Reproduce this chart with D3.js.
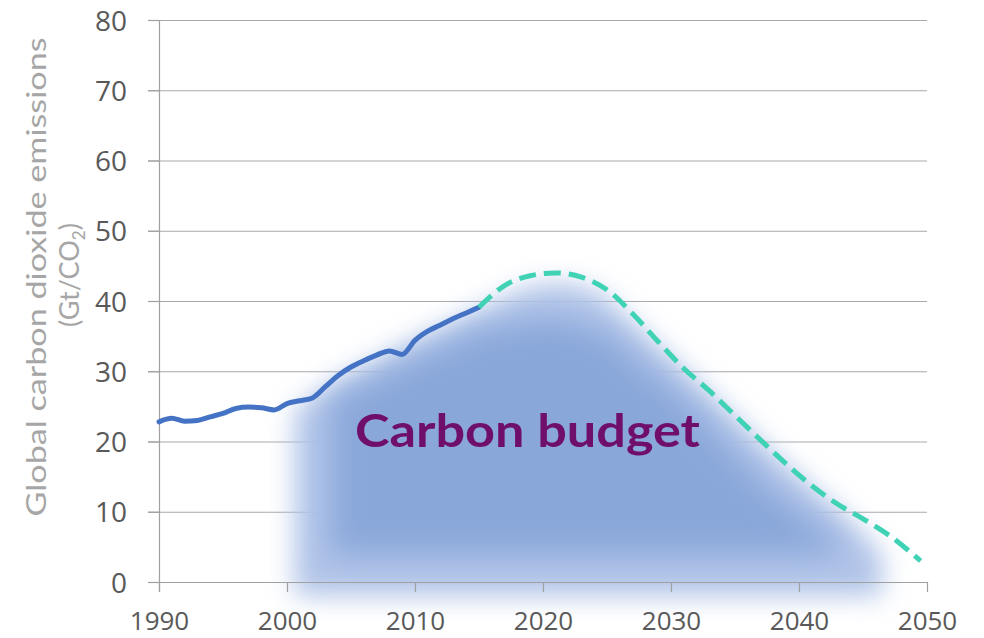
<!DOCTYPE html>
<meta charset="utf-8">
<style>
  body { margin: 0; background: #fff; }
  #chart { display: block; }
</style>
<svg id="chart" width="984" height="638"></svg>
<script src="https://cdn.jsdelivr.net/npm/d3@7"></script>
<script>

// measured emissions, Gt CO2
var pastYears  = [1990,1991,1992,1993,1994,1995,1996,1997,1998,1999,2000,2001,2002,
                  2003,2004,2005,2006,2007,2008,2009,2010,2011,2012,2013,2014,2015];
var pastValues = [22.8,23.3,22.9,23.0,23.5,24.0,24.7,24.9,24.8,24.5,25.4,25.8,26.2,
                  27.8,29.4,30.6,31.5,32.3,32.9,32.4,34.4,35.7,36.6,37.5,38.3,39.1];

// pathway to zero (dashed)
var pathYears  = [2015,2017,2019,2021,2023,2025,2027,2029,2031,2033,2035,2037,2039,2041,2043,2045,2047,2049.5];
var pathValues = [39.1,42.2,43.6,44.0,43.4,41.6,38.2,34.2,30.4,27.2,23.7,20.2,16.8,13.7,11.1,9.0,6.7,3.0];

// carbon budget blob outline (year, value), outer halo and inner core
var budgetOuterYears  = [2000.6,2000.6,2003.4,2009.8,2014.7,2018.2,2021.1,2024.1,2026.8,2032.3,2038.5,2044.0,2046.5,2046.5];
var budgetOuterValues = [-2.0,24.5,28.0,34.2,38.4,41.6,42.7,41.6,37.3,28.0,17.4,8.8,3.8,-2.0];
var budgetInnerYears  = [2003.4,2003.4,2009.8,2015.1,2020.5,2024.5,2031.5,2037.0,2043.2,2043.2];
var budgetInnerValues = [3.8,25.9,31.6,35.9,37.6,35.9,25.2,14.5,5.3,3.8];

var xTicks = [1990,2000,2010,2020,2030,2040,2050];
var yTicks = [0,10,20,30,40,50,60,70,80];

var svg = d3.select("#chart");

var x = d3.scaleLinear().domain([1990, 2050]).range([159, 927]);
var y = d3.scaleLinear().domain([0, 80]).range([582, 20]);

function pairs(xs, ys) { return xs.map(function(d, i) { return [d, ys[i]]; }); }

var defs = svg.append("defs");
function blur(id, sd) {
  defs.append("filter").attr("id", id)
      .attr("filterUnits", "userSpaceOnUse")
      .attr("x", 0).attr("y", 0).attr("width", 984).attr("height", 638)
    .append("feGaussianBlur").attr("stdDeviation", sd);
}
blur("blurOuter", 13);
blur("blurInner", 15);

// gridlines
svg.append("g").selectAll("line")
  .data(yTicks.filter(function(d) { return d > 0; }))
  .enter().append("line")
    .attr("x1", 148).attr("x2", 927)
    .attr("y1", function(d) { return y(d) + 0.5; })
    .attr("y2", function(d) { return y(d) + 0.5; })
    .attr("stroke", "#a9a9a9").attr("stroke-width", 1.2);

// carbon budget
var poly = d3.line().x(function(d) { return x(d[0]); }).y(function(d) { return y(d[1]); })
    .curve(d3.curveLinearClosed);

svg.append("path")
    .attr("d", poly(pairs(budgetOuterYears, budgetOuterValues)))
    .attr("fill", "#b1c4e8")
    .attr("filter", "url(#blurOuter)");
svg.append("path")
    .attr("d", poly(pairs(budgetInnerYears, budgetInnerValues)))
    .attr("fill", "#8aa7da")
    .attr("filter", "url(#blurInner)");

// axes
var gx = svg.append("g").attr("transform", "translate(0," + y(0) + ")")
    .call(d3.axisBottom(x).tickValues(xTicks).tickSize(10).tickFormat(d3.format("d")));
gx.select(".domain").attr("d", "M148,0.5H927");
gx.selectAll(".tick line").attr("stroke", "#a0a0a0").attr("stroke-width", 1.2);
gx.selectAll(".tick text").attr("y", 0).attr("dy", null)
    .attr("transform", "translate(0,48)")
    .attr("fill", "#595959")
    .style("font", "26px 'Open Sans', sans-serif");

var gy = svg.append("g").attr("transform", "translate(159,0)")
    .call(d3.axisLeft(y).tickValues(yTicks).tickSize(11));
gy.select(".domain").attr("d", "M0.5,20V592");
gy.selectAll(".tick line").attr("stroke", "#a0a0a0").attr("stroke-width", 1.2);
gy.selectAll(".tick text").attr("x", -32).attr("dy", "0.36em")
    .attr("fill", "#595959")
    .style("font", "28px 'Open Sans', sans-serif");
svg.selectAll(".domain").attr("stroke", "#a0a0a0").attr("stroke-width", 1.2);

// lines
var curve = d3.line().x(function(d) { return x(d[0]); }).y(function(d) { return y(d[1]); })
    .curve(d3.curveMonotoneX);

svg.append("path")
    .attr("d", curve(pairs(pastYears, pastValues)))
    .attr("fill", "none").attr("stroke", "#4472c4")
    .attr("stroke-width", 5).attr("stroke-linecap", "round").attr("stroke-linejoin", "round");

svg.append("path")
    .attr("d", curve(pairs(pathYears, pathValues)))
    .attr("fill", "none").attr("stroke", "#3fd2b5")
    .attr("stroke-width", 5).attr("stroke-dasharray", "17,8");

// labels
svg.append("text")
    .attr("x", 355).attr("y", 447)
    .attr("textLength", 345).attr("lengthAdjust", "spacingAndGlyphs")
    .attr("fill", "#700e6c")
    .style("font", "bold 46px Lato, sans-serif")
    .text("Carbon budget");

var title = svg.append("g").attr("fill", "#a6a6a6")
    .style("font", "27px Lato, sans-serif");
title.append("text")
    .attr("transform", "translate(46,277) rotate(-90)")
    .attr("text-anchor", "middle")
    .attr("textLength", 479).attr("lengthAdjust", "spacingAndGlyphs")
    .text("Global carbon dioxide emissions");
var t2 = title.append("text")
    .attr("transform", "translate(79,275) rotate(-90)")
    .attr("text-anchor", "middle");
t2.append("tspan").text("(Gt/CO");
t2.append("tspan").attr("font-size", "17px").attr("dy", 6).text("2");
t2.append("tspan").attr("dy", -6).text(")");

</script>
